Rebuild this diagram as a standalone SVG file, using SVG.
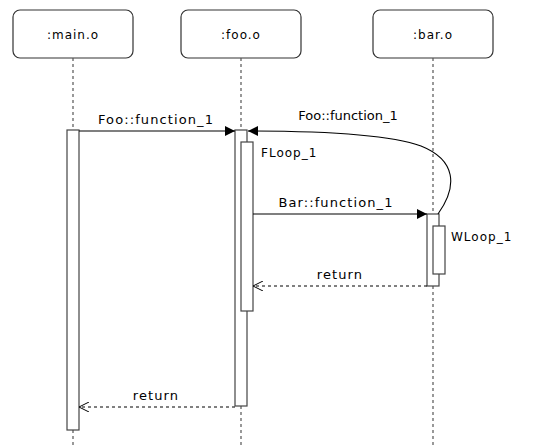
<svg xmlns="http://www.w3.org/2000/svg" width="533" height="447" viewBox="0 0 533 447">
<defs>
<style>
.box{fill:#fff;stroke:#333;stroke-width:1.2}
.life{stroke:#555;stroke-width:1.2;stroke-dasharray:3 3;fill:none}
.act{fill:#fff;stroke:#444;stroke-width:1.2}
.msg{stroke:#000;stroke-width:1.1;fill:none}
.ret{stroke:#000;stroke-width:1;fill:none;stroke-dasharray:3 3}
text{font-family:"DejaVu Sans","Liberation Sans",sans-serif;font-size:12px;fill:#000;letter-spacing:1px}
.lbl{font-size:13px;letter-spacing:1.1px}
.c{text-anchor:middle}
</style>
<marker id="fill" viewBox="0 0 10 10" refX="10" refY="5" markerWidth="10" markerHeight="10" markerUnits="userSpaceOnUse" orient="auto"><path d="M0,0 L10,5 L0,10 Z" fill="#000"/></marker>
<marker id="open" viewBox="0 0 10 10" refX="10" refY="5" markerWidth="10" markerHeight="10" markerUnits="userSpaceOnUse" orient="auto"><path d="M0,0 L10,5 L0,10" fill="none" stroke="#000" stroke-width="1"/></marker>
</defs>
<g id="main">
<rect class="box" x="13" y="10" width="120" height="48" rx="7"/>
<text class="c" x="73" y="39">:main.o</text>
<line class="life" x1="73" y1="58" x2="73" y2="447"/>
<rect class="act" x="67" y="130" width="12" height="300"/>
</g>
<g id="foo">
<rect class="box" x="181" y="10" width="120" height="48" rx="7"/>
<text class="c" x="241" y="39">:foo.o</text>
<line class="life" x1="241" y1="58" x2="241" y2="447"/>
<rect class="act" x="235" y="130" width="12" height="276"/>
<rect class="act" x="241" y="142" width="12" height="169"/>
<text x="261" y="157">FLoop_1</text>
</g>
<g id="bar">
<rect class="box" x="373" y="10" width="120" height="48" rx="7"/>
<text class="c" x="433" y="39">:bar.o</text>
<line class="life" x1="433" y1="58" x2="433" y2="447"/>
<rect class="act" x="427" y="214" width="12" height="72"/>
<rect class="act" x="433" y="226" width="12" height="48"/>
<text x="451" y="241">WLoop_1</text>
</g>
<g id="connectors">
<line class="msg" x1="79" y1="131" x2="235" y2="131" marker-end="url(#fill)"/>
<text class="c lbl" x="156" y="124">Foo::function_1</text>
<path class="msg" d="M438,214 C458,186 456,160 421,146 C385,133 310,131 248,131" marker-end="url(#fill)"/>
<text class="c lbl" x="348" y="120" style="letter-spacing:0">Foo::function_1</text>
<line class="msg" x1="253" y1="214" x2="427" y2="214" marker-end="url(#fill)"/>
<text class="c lbl" x="336" y="207">Bar::function_1</text>
<line class="ret" x1="427" y1="286" x2="253" y2="286" marker-end="url(#open)"/>
<text class="c lbl" x="340" y="279">return</text>
<line class="ret" x1="235" y1="407" x2="79" y2="407" marker-end="url(#open)"/>
<text class="c lbl" x="156" y="400">return</text>
</g>
</svg>
